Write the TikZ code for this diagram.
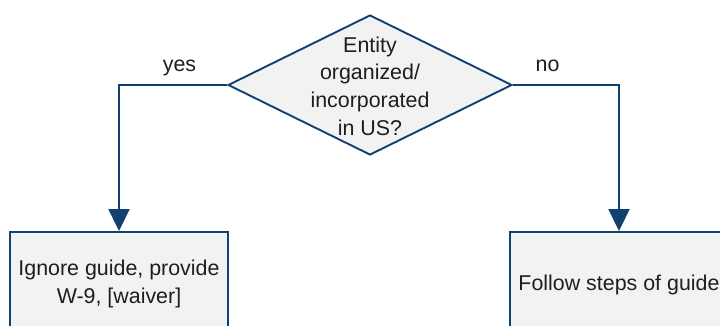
\documentclass[tikz,border=0pt]{standalone}
\usepackage{fontspec}
\setmainfont{Liberation Sans}
\usetikzlibrary{shapes.geometric,arrows.meta}
\definecolor{edge}{RGB}{18,64,112}
\definecolor{boxfill}{RGB}{242,242,242}
\definecolor{txt}{RGB}{30,30,30}
\tikzset{
  flow/.style={draw=edge, line width=1.9pt, -{Triangle[width=21pt,length=22pt]}},
  decision/.style={diamond, draw=edge, fill=boxfill, line width=1.9pt, minimum width=284pt, minimum height=140pt, inner sep=0pt},
  action/.style={rectangle, draw=edge, fill=boxfill, line width=1.9pt, minimum width=218pt, minimum height=104pt, inner sep=0pt},
  lbl/.style={font=\fontsize{21.4}{27.7}\selectfont, text=txt, align=center, inner sep=0pt},
}
\begin{document}
\begin{tikzpicture}[x=1pt,y=-1pt]
\useasboundingbox (0,0) rectangle (720,326);
\clip (0,0) rectangle (720,326);
\node[decision] (q) at (370,85) {};
\node[lbl] (qt) at (370,86) {Entity\\organized/\\incorporated\\in US?};
\node[action] (yesbox) at (119,284) {};
\node[lbl] (yest) at (119,284) {Ignore guide, provide\\W-9, [waiver]};
\node[action] (nobox) at (619,284) {};
\node[lbl] (not) at (619,285) {Follow steps of guide};
\draw[flow] (q.west) -| (yesbox.north);
\draw[flow] (q.east) -| (nobox.north);
\node[lbl, anchor=base] (yeslbl) at (179.5,72) {yes};
\node[lbl, anchor=base] (nolbl) at (547.5,72) {no};
\end{tikzpicture}
\end{document}
